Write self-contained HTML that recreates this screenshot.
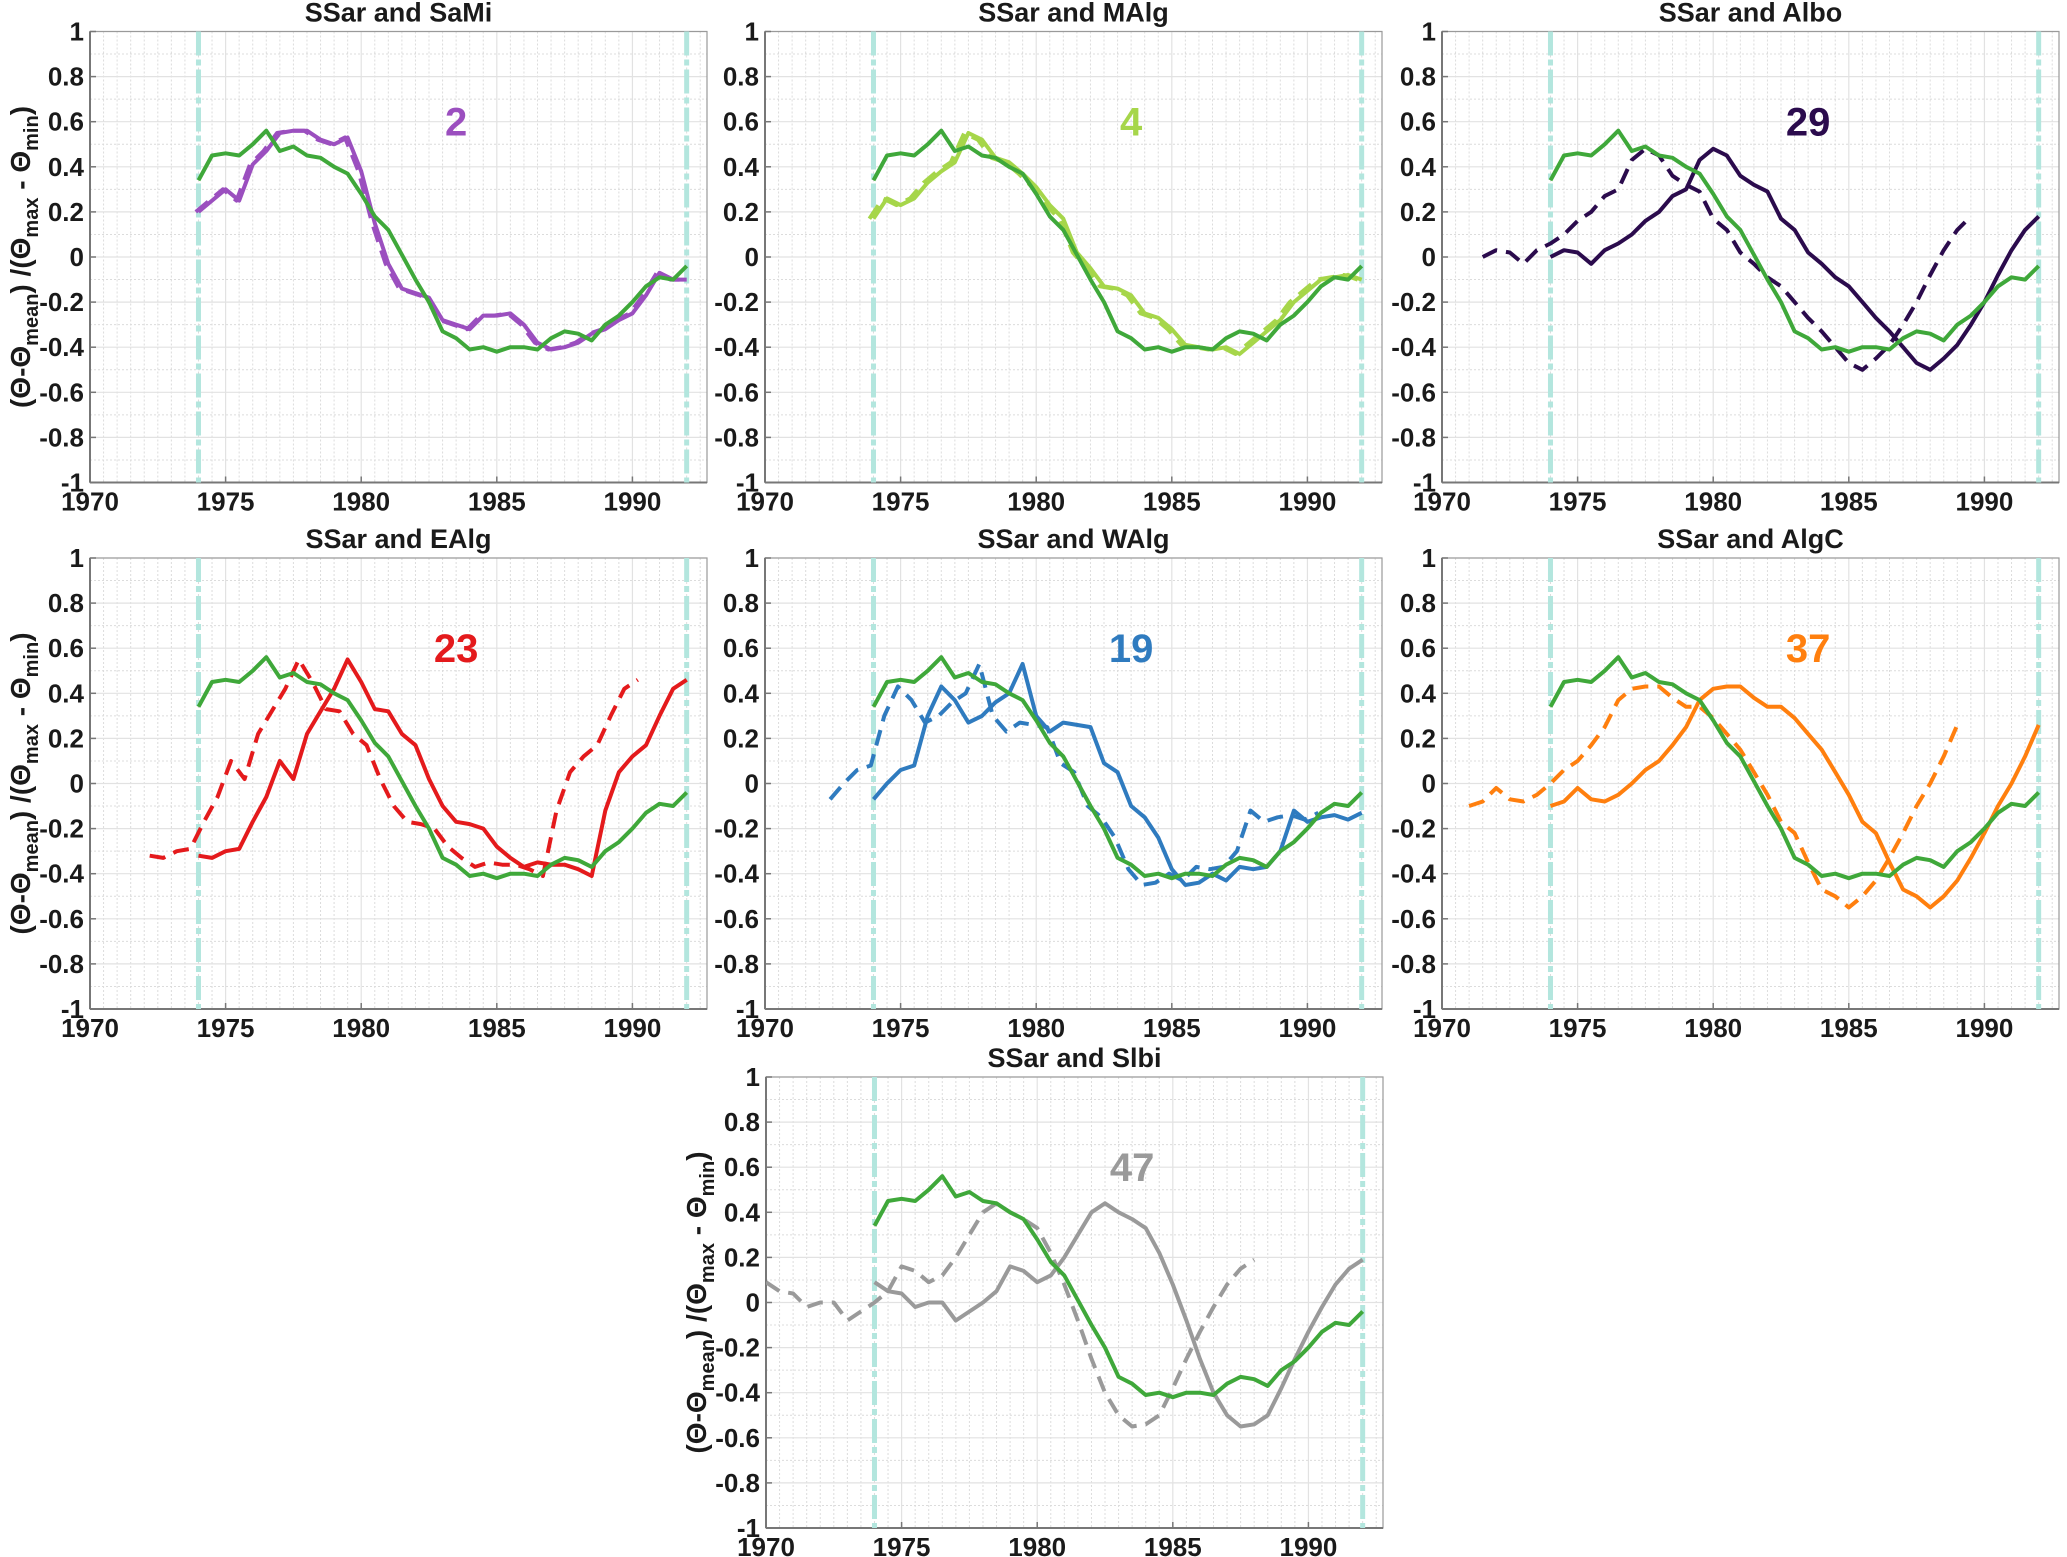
<!DOCTYPE html>
<html><head><meta charset="utf-8"><style>
html,body{margin:0;padding:0;background:#fff;}
svg{display:block;}
text{font-family:"Liberation Sans Narrow","Liberation Sans",sans-serif;font-weight:bold;fill:#1a1a1a;}
</style></head><body>
<svg id="fig" width="2067" height="1557" viewBox="0 0 2067 1557" xmlns="http://www.w3.org/2000/svg"></svg>
<script>
const years = [1974,1974.5,1975,1975.5,1976,1976.5,1977,1977.5,1978,1978.5,1979,1979.5,1980,1980.5,1981,1981.5,1982,1982.5,1983,1983.5,1984,1984.5,1985,1985.5,1986,1986.5,1987,1987.5,1988,1988.5,1989,1989.5,1990,1990.5,1991,1991.5,1992];
const ssar = [0.34,0.45,0.46,0.45,0.50,0.56,0.47,0.49,0.45,0.44,0.40,0.37,0.28,0.18,0.12,0.01,-0.10,-0.20,-0.33,-0.36,-0.41,-0.40,-0.42,-0.40,-0.40,-0.41,-0.36,-0.33,-0.34,-0.37,-0.30,-0.26,-0.20,-0.13,-0.09,-0.10,-0.04];
const sami = [0.20,0.25,0.30,0.25,0.41,0.47,0.55,0.56,0.56,0.52,0.50,0.53,0.38,0.15,-0.03,-0.14,-0.16,-0.18,-0.28,-0.30,-0.32,-0.26,-0.26,-0.25,-0.30,-0.38,-0.41,-0.40,-0.38,-0.34,-0.32,-0.28,-0.25,-0.17,-0.07,-0.10,-0.10];
const malg = [0.17,0.26,0.23,0.26,0.33,0.38,0.42,0.55,0.52,0.44,0.42,0.37,0.31,0.23,0.17,0.02,-0.05,-0.13,-0.14,-0.17,-0.25,-0.27,-0.32,-0.39,-0.40,-0.41,-0.40,-0.43,-0.38,-0.33,-0.28,-0.20,-0.15,-0.10,-0.09,-0.08,-0.10];
const albo = [0.00,0.03,0.02,-0.03,0.03,0.06,0.10,0.16,0.20,0.27,0.30,0.43,0.48,0.45,0.36,0.32,0.29,0.17,0.12,0.02,-0.03,-0.09,-0.13,-0.20,-0.27,-0.33,-0.40,-0.47,-0.50,-0.45,-0.39,-0.30,-0.20,-0.08,0.03,0.12,0.18];
const ealg = [-0.32,-0.33,-0.30,-0.29,-0.17,-0.06,0.10,0.02,0.22,0.32,0.42,0.55,0.45,0.33,0.32,0.22,0.17,0.02,-0.10,-0.17,-0.18,-0.20,-0.28,-0.33,-0.37,-0.35,-0.36,-0.36,-0.38,-0.41,-0.12,0.05,0.12,0.17,0.30,0.42,0.46];
const walg = [-0.07,0.00,0.06,0.08,0.30,0.43,0.37,0.27,0.30,0.36,0.40,0.53,0.30,0.23,0.27,0.26,0.25,0.09,0.05,-0.10,-0.15,-0.24,-0.38,-0.45,-0.44,-0.40,-0.43,-0.37,-0.38,-0.37,-0.30,-0.12,-0.17,-0.15,-0.14,-0.16,-0.13];
const algc = [-0.10,-0.08,-0.02,-0.07,-0.08,-0.05,0.00,0.06,0.10,0.17,0.25,0.37,0.42,0.43,0.43,0.38,0.34,0.34,0.29,0.22,0.15,0.05,-0.05,-0.17,-0.22,-0.35,-0.47,-0.50,-0.55,-0.50,-0.43,-0.33,-0.22,-0.10,0.00,0.12,0.26];
const slbi = [0.09,0.05,0.04,-0.02,0.00,0.00,-0.08,-0.04,0.00,0.05,0.16,0.14,0.09,0.12,0.20,0.30,0.40,0.44,0.40,0.37,0.33,0.22,0.08,-0.08,-0.25,-0.40,-0.50,-0.55,-0.54,-0.50,-0.38,-0.25,-0.13,-0.02,0.08,0.15,0.19];
const panelTitles = ["SSar and SaMi","SSar and MAlg","SSar and Albo","SSar and EAlg","SSar and WAlg","SSar and AlgC","SSar and Slbi"];
const panelNumbers = ["2","4","29","23","19","37","47"];
const panelLags = [0.1,0.15,2.5,1.8,1.6,3.0,4.0];
const xTicks = [1970,1975,1980,1985,1990];
const yTicks = [1,0.8,0.6,0.4,0.2,0,-0.2,-0.4,-0.6,-0.8,-1];
const yTickLabels = ["1","0.8","0.6","0.4","0.2","0","-0.2","-0.4","-0.6","-0.8","-1"];
const markerYears = [1974,1992];

const series = [sami,malg,albo,ealg,walg,algc,slbi];
const colors = ["#9b4fbf","#a6d64a","#2b0b4d","#e41a1c","#2f7bbf","#ff7f0e","#9a9a9a"];
const boxes = [[90,31.5],[765,31.5],[1442,31.5],[90,558],[765,558],[1442,558],[766,1077]];
const W=617, H=451, X0=1970, X1=1992.75;
const NS="http://www.w3.org/2000/svg";
const svg=document.getElementById('fig');
function mk(tag,attrs,parent){const e=document.createElementNS(NS,tag);for(const k in attrs)e.setAttribute(k,attrs[k]);(parent||svg).appendChild(e);return e;}

boxes.forEach((b,pi)=>{
  const [L,T]=b;
  const sx=v=>L+(v-X0)/(X1-X0)*W;
  const sy=v=>T+(1-v)/2*H;
  const g=mk('g',{});
  
  
  for(let y=1970.5;y<X1;y+=0.5){ if(Math.abs(y-Math.round(y/5)*5)<0.01) continue;
    const l=mk('line',{x1:sx(y),x2:sx(y),y1:T,y2:T+H,stroke:'#dcdcdc','stroke-width':1,'stroke-dasharray':'2,2'},g);
    
    
  }
  for(let v=-0.9;v<1;v+=0.2){
    const l=mk('line',{x1:L,x2:L+W,y1:sy(v),y2:sy(v),stroke:'#dcdcdc','stroke-width':1,'stroke-dasharray':'2,2'},g);
    
    
  }
  xTicks.forEach(t=>{
    const l=mk('line',{x1:sx(t),x2:sx(t),y1:T,y2:T+H,stroke:'#e2e2e2','stroke-width':1.2},g);
    
    
  });
  yTicks.forEach(t=>{
    const l=mk('line',{x1:L,x2:L+W,y1:sy(t),y2:sy(t),stroke:'#e2e2e2','stroke-width':1.2},g);
    
    
  });
  const r=mk('rect',{x:L,y:T,width:W,height:H,fill:'none',stroke:'#9a9a9a','stroke-width':1.2},g);
  
  
  mk('line',{x1:L,x2:L,y1:T,y2:T+H,stroke:'#777','stroke-width':2},g);
  mk('line',{x1:L,x2:L+W,y1:T+H,y2:T+H,stroke:'#777','stroke-width':2},g);
  xTicks.forEach(t=>{
    mk('line',{x1:sx(t),x2:sx(t),y1:T+H,y2:T+H-6,stroke:'#777','stroke-width':1.5},g);
    const tx=mk('text',{x:sx(t),y:T+H+28,'text-anchor':'middle','font-size':26},g);
    tx.textContent=t;
    
    
  });
  yTicks.forEach((t,i)=>{
    mk('line',{x1:L,x2:L+6,y1:sy(t),y2:sy(t),stroke:'#777','stroke-width':1.5},g);
    const tx=mk('text',{x:L-6,y:sy(t)+9,'text-anchor':'end','font-size':26},g);
    tx.textContent=yTickLabels[i];
    
    
  });
  markerYears.forEach(m=>{
    const l=mk('line',{x1:sx(m),x2:sx(m),y1:T,y2:T+H,stroke:'#b3e6de','stroke-width':5,'stroke-dasharray':'24,4,6,4'},g);
    
    
  });
  const clipId='c'+pi;
  const cp=mk('clipPath',{id:clipId},g);
  mk('rect',{x:L,y:T,width:W,height:H},cp);
  const vals=series[pi];
  const lag=panelLags[pi];
  const pts=(arr,shift)=>arr.map((v,i)=>sx(years[i]-shift).toFixed(1)+','+sy(v).toFixed(1)).join(' ');
  const dash=mk('polyline',{points:pts(vals,lag),fill:'none',stroke:colors[pi],'stroke-width':4,'stroke-dasharray':'16,9','stroke-linejoin':'round','clip-path':'url(#'+clipId+')'},g);
  
  
  const sol=mk('polyline',{points:pts(vals,0),fill:'none',stroke:colors[pi],'stroke-width':4,'stroke-linejoin':'round'},g);
  
  
  const gr=mk('polyline',{points:pts(ssar,0),fill:'none',stroke:'#3fa83a','stroke-width':4,'stroke-linejoin':'round'},g);
  
  
  const tt=mk('text',{x:L+W/2,y:T-10,'text-anchor':'middle','font-size':27,'font-family':'Liberation Sans, sans-serif'},g);
  tt.textContent=panelTitles[pi];
  
  
  const nm=mk('text',{x:sx(1983.5),y:sy(0.6)+14,'text-anchor':'middle','font-size':40,fill:colors[pi]},g);
  nm.style.fill=colors[pi];
  nm.textContent=panelNumbers[pi];
  
  
  if(L<100||pi===6){
    const cx=L-60, cy=T+H/2;
    const yl=mk('text',{x:cx,y:cy,'text-anchor':'middle','font-size':28,transform:'rotate(-90 '+cx+' '+cy+')','font-family':'Liberation Sans, sans-serif'},g);
    yl.innerHTML='(Θ-Θ<tspan font-size="20" dy="8">mean</tspan><tspan dy="-8">) /(Θ</tspan><tspan font-size="20" dy="8">max</tspan><tspan dy="-8"> - Θ</tspan><tspan font-size="20" dy="8">min</tspan><tspan dy="-8">)</tspan>';
    
    
  }
});
</script>
</body></html>
